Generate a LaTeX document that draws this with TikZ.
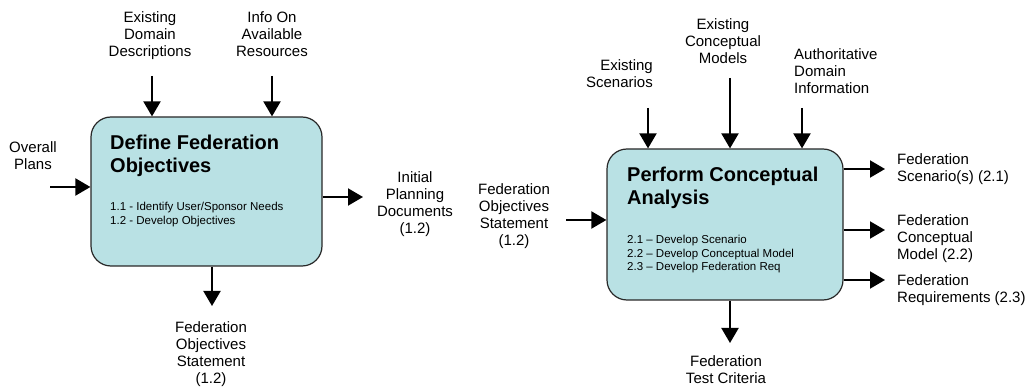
\documentclass[tikz,border=0pt]{standalone}
\usepackage{fontspec}
\setmainfont{Liberation Sans}
\usetikzlibrary{arrows.meta}
\definecolor{boxfill}{RGB}{185,225,228}
\definecolor{boxline}{RGB}{40,40,40}
\begin{document}
\begin{tikzpicture}[x=1pt,y=-1pt,
  procbox/.style={draw=boxline,line width=1.2pt,fill=boxfill,rounded corners=20pt,inner sep=0pt},
  lbl/.style={font=\fontsize{15}{17}\selectfont,align=center,inner sep=0pt,anchor=north},
  ttl/.style={font=\fontsize{20}{22.5}\selectfont\bfseries,align=left,inner sep=0pt,anchor=north west},
  itm/.style={font=\fontsize{11.5}{13.5}\selectfont,align=left,inner sep=0pt,anchor=north west},
  flow/.style={line width=2pt,-{Triangle[width=17pt,length=15pt]}}]
\useasboundingbox (0,0) rectangle (1029,387);

% --- Activity 1: Define Federation Objectives ---
\node[procbox,minimum width=231pt,minimum height=149pt] (b1) at (206.5,191.5) {};
\node[ttl] (t1) at (110,135) {Define Federation\\Objectives};
\node[itm] (i1) at (110,202) {1.1 - Identify User/Sponsor Needs\\1.2 - Develop Objectives};

\node[lbl] (edd) at (150,11.5) {Existing\\Domain\\Descriptions};
\node[lbl] (iar) at (272,11.5) {Info On\\Available\\Resources};
\node[lbl] (op) at (33,141.5) {Overall\\Plans};
\node[lbl] (fos1) at (211,321.5) {Federation\\Objectives\\Statement\\(1.2)};
\node[lbl] (ipd) at (415,171.5) {Initial\\Planning\\Documents\\(1.2)};

\coordinate (edd-t) at (152,76);
\coordinate (iar-t) at (272,76);
\coordinate (op-t) at (50,187);
\coordinate (ipd-h) at (363,197);
\coordinate (fos1-h) at (212,306);

\draw[flow] (edd-t) -- (edd-t |- b1.north);
\draw[flow] (iar-t) -- (iar-t |- b1.north);
\draw[flow] (op-t) -- (op-t -| b1.west);
\draw[flow] (ipd-h -| b1.east) -- (ipd-h);
\draw[flow] (fos1-h |- b1.south) -- (fos1-h);

% --- Activity 2: Perform Conceptual Analysis ---
\node[procbox,minimum width=236pt,minimum height=151pt] (b2) at (725,224.5) {};
\node[ttl] (t2) at (627,167) {Perform Conceptual\\Analysis};
\node[itm] (i2) at (627,235) {2.1 -- Develop Scenario\\2.2 -- Develop Conceptual Model\\2.3 -- Develop Federation Req};

\node[lbl] (fos2) at (514,183.5) {Federation\\Objectives\\Statement\\(1.2)};
\node[lbl,align=right,anchor=north east] (es) at (653,59.5) {Existing\\Scenarios};
\node[lbl] (ecm) at (723,18.5) {Existing\\Conceptual\\Models};
\node[lbl,align=left,anchor=north west] (adi) at (794,48.5) {Authoritative\\Domain\\Information};
\node[lbl,align=left,anchor=north west] (fsc) at (897,153.5) {Federation\\Scenario(s) (2.1)};
\node[lbl,align=left,anchor=north west] (fcm) at (897,214.5) {Federation\\Conceptual\\Model (2.2)};
\node[lbl,align=left,anchor=north west] (frq) at (897,274.5) {Federation\\Requirements (2.3)};
\node[lbl] (ftc) at (726,355.5) {Federation\\Test Criteria};

\coordinate (fos2-t) at (566,220);
\coordinate (es-t) at (648,108);
\coordinate (ecm-t) at (730,78);
\coordinate (adi-t) at (802,108);
\coordinate (fsc-h) at (885,169);
\coordinate (fcm-h) at (885,230);
\coordinate (frq-h) at (885,280);
\coordinate (ftc-h) at (730,343);

\draw[flow] (fos2-t) -- (fos2-t -| b2.west);
\draw[flow] (es-t) -- (es-t |- b2.north);
\draw[flow] (ecm-t) -- (ecm-t |- b2.north);
\draw[flow] (adi-t) -- (adi-t |- b2.north);
\draw[flow] (fsc-h -| b2.east) -- (fsc-h);
\draw[flow] (fcm-h -| b2.east) -- (fcm-h);
\draw[flow] (frq-h -| b2.east) -- (frq-h);
\draw[flow] (ftc-h |- b2.south) -- (ftc-h);
\end{tikzpicture}
\end{document}
